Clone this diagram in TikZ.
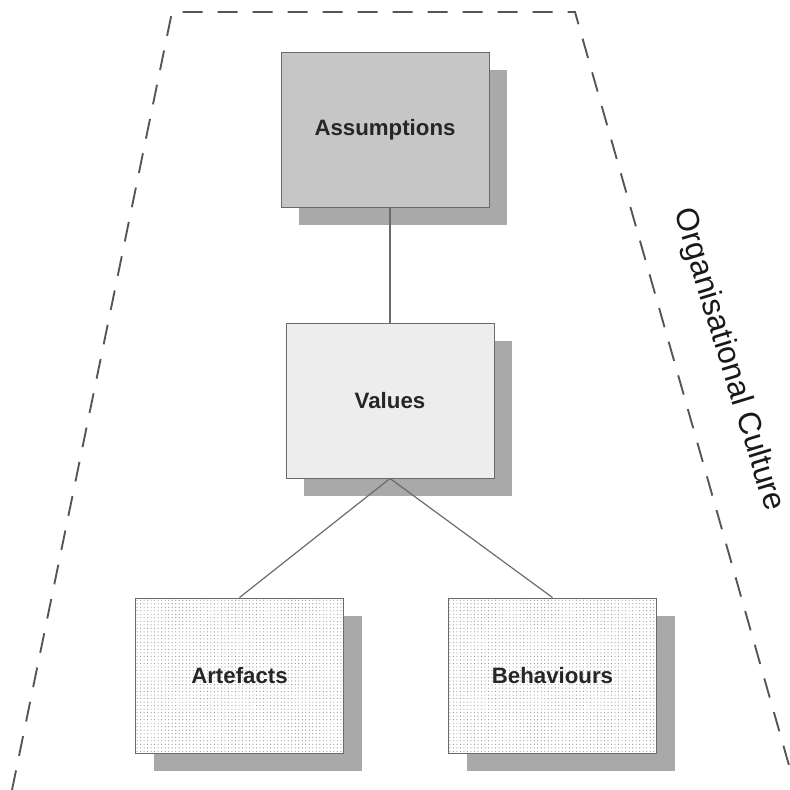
\documentclass[tikz,border=0pt]{standalone}
\usepackage{fontspec}
\setmainfont{Liberation Sans}
\usetikzlibrary{patterns,shadows}

\definecolor{boxline}{HTML}{6A6A6A}
\definecolor{shadowgray}{HTML}{A9A9A9}
\definecolor{darkfill}{HTML}{C6C6C6}
\definecolor{lightfill}{HTML}{EDEDED}
\definecolor{edgegray}{HTML}{555555}

\begin{document}
\begin{tikzpicture}[x=0.3mm,y=-0.3mm,
  level/.style={draw=boxline,line width=0.8pt,shape=rectangle,
    minimum width=6.24cm,minimum height=4.65cm,
    font=\bfseries\fontsize{19}{22}\selectfont,text=black!85,
    drop shadow={shadow xshift=0.54cm,shadow yshift=-0.54cm,
      fill=shadowgray,opacity=1}},
  dotted box/.style={level,fill=white,
    postaction={pattern=dots,pattern color=gray!85}}]
  \useasboundingbox[fill=white] (0,0) rectangle (789,790);

  % the boundary of the culture
  \draw[edgegray,line width=1.6pt,dash pattern=on 0.6cm off 0.45cm]
    (12,790) -- (172,12) -- (575,12) -- (796,790);
  \node[rotate=-73,font=\fontsize{27}{30}\selectfont,text=black!90]
    (culture) at (728,360) {Organisational Culture};

  \node[level,fill=darkfill] (assumptions) at (385,129.5) {Assumptions};
  \node[level,fill=lightfill] (values) at (390,400.5) {Values};
  \node[dotted box] (artefacts) at (239.5,675.5) {Artefacts};
  \node[dotted box] (behaviours) at (552.5,675.5) {Behaviours};

  \draw[boxline,line width=1pt] (assumptions.south -| values.north) -- (values.north);
  \draw[boxline,line width=1pt] (values.south) -- (artefacts.north);
  \draw[boxline,line width=1pt] (values.south) -- (behaviours.north);
\end{tikzpicture}
\end{document}
